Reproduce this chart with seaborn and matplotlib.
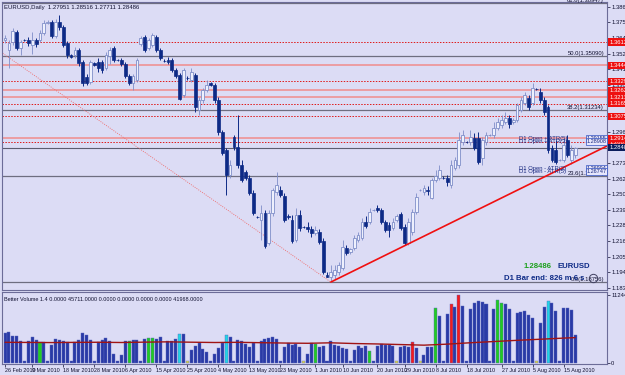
import matplotlib
matplotlib.use("Agg")
import matplotlib.pyplot as plt
import numpy as np
import pandas as pd
import seaborn as sns

# EURUSD daily bars, 26 Feb 2010 - 18 Aug 2010
opens = [1.3627, 1.3555, 1.3613, 1.3685, 1.3570, 1.3627, 1.3627, 1.3591, 1.3627, 1.3627,
         1.3678, 1.3752, 1.3758, 1.3656, 1.3758, 1.3721, 1.3606, 1.3519, 1.3519, 1.3555,
         1.3468, 1.3360, 1.3323, 1.3461, 1.3468, 1.3468, 1.3425, 1.3512, 1.3570, 1.3483,
         1.3483, 1.3454, 1.3367, 1.3316, 1.3338, 1.3598, 1.3649, 1.3570, 1.3591, 1.3649,
         1.3555, 1.3477, 1.3483, 1.3483, 1.3410, 1.3374, 1.3229, 1.3355, 1.3338, 1.3374,
         1.3121, 1.3193, 1.3265, 1.3316, 1.3302, 1.3193, 1.2961, 1.2831, 1.2650, 1.2925,
         1.2853, 1.2722, 1.2672, 1.2628, 1.2520, 1.2349, 1.2324, 1.2375, 1.2158, 1.2375,
         1.2527, 1.2541, 1.2498, 1.2350, 1.2324, 1.2179, 1.2360, 1.2274, 1.2274, 1.2259,
         1.2230, 1.2237, 1.2172, 1.1926, 1.1912, 1.1926, 1.1948, 1.1977, 1.2122, 1.2093,
         1.2122, 1.2179, 1.2194, 1.2310, 1.2310, 1.2395, 1.2411, 1.2397, 1.2310, 1.2288,
         1.2266, 1.2324, 1.2368, 1.2274, 1.2158, 1.2237, 1.2382, 1.2538, 1.2527, 1.2541,
         1.2484, 1.2614, 1.2628, 1.2630, 1.2628, 1.2578, 1.2701, 1.2722, 1.2889, 1.2892,
         1.2889, 1.2918, 1.2918, 1.2773, 1.2889, 1.2938, 1.2940, 1.2990, 1.3012, 1.3034,
         1.3063, 1.3034, 1.3048, 1.3121, 1.3171, 1.3208, 1.3171, 1.3275, 1.3251, 1.3193,
         1.3142, 1.2846, 1.2831, 1.2755, 1.2759, 1.2903, 1.2759, 1.27951]
highs = [1.3664, 1.3627, 1.3714, 1.3700, 1.3627, 1.3635, 1.3649, 1.3685, 1.3642, 1.3700,
         1.3772, 1.3772, 1.3772, 1.3779, 1.3808, 1.3736, 1.3620, 1.3526, 1.3577, 1.3570,
         1.3483, 1.3381, 1.3483, 1.3468, 1.3497, 1.3483, 1.3541, 1.3577, 1.3584, 1.3490,
         1.3497, 1.3468, 1.3381, 1.3381, 1.3497, 1.3656, 1.3664, 1.3642, 1.3678, 1.3664,
         1.3570, 1.3490, 1.3504, 1.3497, 1.3425, 1.3389, 1.3425, 1.3367, 1.3425, 1.3389,
         1.3215, 1.3280, 1.3338, 1.3323, 1.3316, 1.3215, 1.2976, 1.2846, 1.2759, 1.2940,
         1.3084, 1.2759, 1.2686, 1.2650, 1.2541, 1.2353, 1.2433, 1.2397, 1.2397, 1.2556,
         1.2672, 1.2570, 1.2520, 1.2368, 1.2360, 1.2411, 1.2397, 1.2281, 1.2310, 1.2281,
         1.2281, 1.2259, 1.2194, 1.1948, 1.1998, 1.1998, 1.2020, 1.2179, 1.2143, 1.2122,
         1.2216, 1.2237, 1.2339, 1.2353, 1.2411, 1.2404, 1.2433, 1.2411, 1.2324, 1.2310,
         1.2339, 1.2368, 1.2382, 1.2295, 1.2339, 1.2404, 1.2520, 1.2548, 1.2578, 1.2570,
         1.2628, 1.2686, 1.2722, 1.2643, 1.2650, 1.2759, 1.2780, 1.2961, 1.2976, 1.2896,
         1.2976, 1.2954, 1.2961, 1.2925, 1.2961, 1.2947, 1.3034, 1.3063, 1.3084, 1.3106,
         1.3084, 1.3063, 1.3171, 1.3215, 1.3251, 1.3229, 1.3316, 1.3280, 1.3280, 1.3215,
         1.3157, 1.2867, 1.2903, 1.2766, 1.2918, 1.2940, 1.2867, 1.28516]
lows = [1.3606, 1.3425, 1.3591, 1.3555, 1.3519, 1.3620, 1.3584, 1.3526, 1.3577, 1.3613,
        1.3664, 1.3743, 1.3642, 1.3642, 1.3700, 1.3577, 1.3497, 1.3497, 1.3497, 1.3439,
        1.3294, 1.3302, 1.3309, 1.3439, 1.3396, 1.3389, 1.3410, 1.3454, 1.3468, 1.3475,
        1.3439, 1.3352, 1.3302, 1.3265, 1.3323, 1.3584, 1.3541, 1.3555, 1.3577, 1.3541,
        1.3483, 1.3468, 1.3454, 1.3396, 1.3352, 1.3193, 1.3215, 1.3338, 1.3323, 1.3106,
        1.3084, 1.3171, 1.3251, 1.3294, 1.3171, 1.2940, 1.2795, 1.2505, 1.2628, 1.2831,
        1.2701, 1.2599, 1.2614, 1.2505, 1.2360, 1.2339, 1.2179, 1.2122, 1.2143, 1.2353,
        1.2505, 1.2491, 1.2310, 1.2331, 1.2158, 1.2165, 1.2245, 1.2266, 1.2237, 1.2201,
        1.2216, 1.2150, 1.1933, 1.1912, 1.1875, 1.1897, 1.1926, 1.1962, 1.2071, 1.2078,
        1.2107, 1.2165, 1.2179, 1.2266, 1.2295, 1.2390, 1.2382, 1.2295, 1.2237, 1.2201,
        1.2252, 1.2310, 1.2252, 1.2143, 1.2143, 1.2216, 1.2368, 1.2534, 1.2505, 1.2505,
        1.2476, 1.2599, 1.2614, 1.2621, 1.2570, 1.2556, 1.2686, 1.2701, 1.2867, 1.2882,
        1.2867, 1.2831, 1.2730, 1.2722, 1.2867, 1.2932, 1.2918, 1.2976, 1.2990, 1.3019,
        1.2990, 1.3019, 1.3034, 1.3106, 1.3157, 1.3121, 1.3157, 1.3265, 1.3171, 1.3084,
        1.2809, 1.2744, 1.2730, 1.2751, 1.2744, 1.2780, 1.2730, 1.27711]
closes = [1.3642, 1.3606, 1.3693, 1.3570, 1.3613, 1.3625, 1.3606, 1.3627, 1.3598, 1.3678,
          1.3750, 1.3758, 1.3656, 1.3758, 1.3721, 1.3591, 1.3519, 1.3504, 1.3555, 1.3461,
          1.3316, 1.3316, 1.3468, 1.3446, 1.3425, 1.3410, 1.3519, 1.3555, 1.3483, 1.3480,
          1.3454, 1.3367, 1.3316, 1.3367, 1.3483, 1.3642, 1.3555, 1.3627, 1.3664, 1.3555,
          1.3497, 1.3475, 1.3468, 1.3410, 1.3367, 1.3200, 1.3410, 1.3352, 1.3396, 1.3142,
          1.3193, 1.3265, 1.3302, 1.3302, 1.3193, 1.2961, 1.2809, 1.2650, 1.2722, 1.2853,
          1.2722, 1.2614, 1.2628, 1.2520, 1.2375, 1.2346, 1.2375, 1.2136, 1.2375, 1.2541,
          1.2578, 1.2505, 1.2324, 1.2346, 1.2172, 1.2360, 1.2266, 1.2270, 1.2259, 1.2230,
          1.2252, 1.2165, 1.1948, 1.1915, 1.1948, 1.1962, 1.1998, 1.2129, 1.2085, 1.2115,
          1.2194, 1.2216, 1.2310, 1.2281, 1.2382, 1.2397, 1.2397, 1.2310, 1.2252, 1.2252,
          1.2310, 1.2353, 1.2266, 1.2158, 1.2310, 1.2382, 1.2491, 1.2541, 1.2556, 1.2534,
          1.2614, 1.2643, 1.2686, 1.2628, 1.2599, 1.2722, 1.2759, 1.2903, 1.2940, 1.2889,
          1.2925, 1.2846, 1.2744, 1.2903, 1.2940, 1.2942, 1.2990, 1.3034, 1.3048, 1.3063,
          1.3019, 1.3048, 1.3157, 1.3193, 1.3229, 1.3142, 1.3280, 1.3273, 1.3193, 1.3106,
          1.2831, 1.2759, 1.2744, 1.2759, 1.2867, 1.2795, 1.2831, 1.28486]
volume = [49600, 51300, 44700, 44700, 36400, 2500, 36400, 43000, 38000, 34700,
          34700, 2500, 29800, 39700, 38000, 36400, 34700, 2500, 34700, 38000,
          49600, 46300, 38000, 2500, 34700, 38000, 41400, 36400, 14900, 2500,
          13200, 36400, 36400, 38000, 38000, 4000, 39700, 41400, 41400, 39700,
          43000, 2500, 36400, 36400, 39700, 48000, 48000, 2500, 21500, 28100,
          33100, 23200, 18200, 2500, 14900, 24800, 33100, 46300, 43000, 3300,
          38000, 36400, 31400, 26500, 33100, 2500, 36400, 39700, 41400, 43000,
          39700, 2500, 26500, 33100, 29800, 31400, 26500, 2500, 14900, 33100,
          31400, 26500, 28100, 2500, 36400, 29800, 28100, 24800, 23200, 2500,
          21500, 28100, 24800, 28100, 19800, 2500, 28100, 31400, 29800, 29800,
          28100, 2500, 26500, 28100, 26500, 34700, 24800, 2500, 13200, 26500,
          26500, 91000, 77700, 4000, 81000, 97600, 92600, 112443, 94300, 3300,
          89300, 99200, 102500, 100900, 97600, 4000, 89300, 104200, 99200, 97600,
          89300, 3300, 82700, 84400, 86000, 79400, 74400, 2500, 66200, 92600,
          102500, 99200, 86000, 3300, 91000, 91000, 87700, 45711]
green_bars = [9, 32, 37, 38, 80, 94, 111, 127, 128]
red_bars = [105, 115, 117]
cyan_bars = [45, 57, 140]
yellow_bars = [47, 77, 101, 107, 137]

# volume moving average (Better Volume signal line)
ma_bars = [0, 6, 12, 18, 24, 30, 36, 42, 48, 54, 60, 66, 72, 78, 84, 90, 96,
           102, 108, 114, 120, 126, 132, 138, 144, 147]
ma_vals = [34200, 34000, 33800, 34100, 34300, 33900, 34500, 35000, 34400, 33900,
           34200, 33600, 33000, 32600, 33400, 32200, 31500, 30500, 29500, 31200,
           33500, 35500, 37500, 39300, 41200, 41968]

# horizontal levels
fib_pct = ["0.0", "23.6", "38.2", "50.0", "61.8"]
fib_levels = [1.18756, 1.26462, 1.31234, 1.35090, 1.38947]
red_dotted = [1.36125, 1.33291, 1.31652, 1.30753, 1.28879]
pink_solid = [1.34445, 1.32626, 1.32138, 1.29142]
bid = 1.28486
atr_names = ["D1 Open + ATR(5)", "D1 Open + ATR(3)", "D1 Open - ATR(3)", "D1 Open - ATR(5)"]
atr_levels = [1.29155, 1.28908, 1.26994, 1.26747]

price_ticks = [1.38660, 1.37545, 1.36425, 1.35270, 1.34150, 1.33030, 1.31910, 1.30790,
               1.29620, 1.28500, 1.27360, 1.26240, 1.25089, 1.23960, 1.22845, 1.21690,
               1.20570, 1.19450, 1.18320]
date_ticks = [0, 7, 15, 23, 31, 39, 47, 55, 63, 71, 80, 87, 96, 103, 111, 119, 128, 136, 144]
date_labels = ["26 Feb 2010", "9 Mar 2010", "18 Mar 2010", "28 Mar 2010", "6 Apr 2010",
               "15 Apr 2010", "25 Apr 2010", "4 May 2010", "13 May 2010", "23 May 2010",
               "1 Jun 2010", "10 Jun 2010", "20 Jun 2010", "29 Jun 2010", "8 Jul 2010",
               "18 Jul 2010", "27 Jul 2010", "5 Aug 2010", "15 Aug 2010"]

trend_start = (84, 1.1875)
trend_end = (156, 1.2871)
fib_anchor = (-83, 1.5143)

sns.set_theme(style="white")
plt.rcParams['font.family'] = ['Liberation Sans', 'DejaVu Sans']

BG = '#dcdcf5'
BEAR = '#0d2a86'
BULL_EDGE = '#7f8ec8'
BULL_FILL = '#eef0fd'
FRAME = '#6c6c98'
TXT = '#101030'

n = len(closes)
bars = np.arange(n)
o = np.array(opens)
h = np.array(highs)
l = np.array(lows)
c = np.array(closes)
up = c >= o

fig = plt.figure(figsize=(6.25, 3.75), dpi=100, facecolor=BG)
ax = fig.add_axes([2 / 625, 85 / 375, 605 / 625, 288 / 375], facecolor=BG)
axv = fig.add_axes([2 / 625, 11 / 375, 605 / 625, 72 / 375], facecolor=BG)

# levels
for lvl in fib_levels:
    ax.axhline(lvl, color='#6e6e80', lw=0.9, zorder=1)
for lvl in pink_solid:
    ax.axhline(lvl, color='#f08c8c', lw=1.1, zorder=1)
for lvl in red_dotted:
    ax.axhline(lvl, color='#e01818', lw=0.7, ls=(0, (1.5, 1.5)), zorder=1)
ax.axhline(bid, color='#5c5c70', lw=0.8, zorder=1)

# fibo diagonal + trend line
ax.plot([fib_anchor[0], trend_start[0]], [fib_anchor[1], trend_start[1]],
        color='#f06a6a', lw=0.6, ls=(0, (1.2, 1.5)), zorder=1)
ax.plot([trend_start[0], trend_end[0]], [trend_start[1], trend_end[1]],
        color='#f01010', lw=1.2, zorder=4)

# candles
ax.vlines(bars[up], l[up], h[up], color=BULL_EDGE, lw=0.6, zorder=2)
ax.vlines(bars[~up], l[~up], h[~up], color=BEAR, lw=0.7, zorder=2)
ax.bar(bars[up], c[up] - o[up], bottom=o[up], width=0.72, facecolor=BULL_FILL,
       edgecolor=BULL_EDGE, lw=0.6, zorder=3)
ax.bar(bars[~up], c[~up] - o[~up], bottom=o[~up], width=0.72, facecolor=BEAR,
       edgecolor=BEAR, lw=0.5, zorder=3)

ax.set_xlim(-0.8, 155.2)
ax.set_ylim(1.18175, 1.39022)
ax.set_xticks([])
ax.yaxis.tick_right()
ax.set_yticks(price_ticks)
ax.set_yticklabels([f"{t:.5f}" for t in price_ticks])
ax.tick_params(axis='y', labelsize=4.2, length=2, width=0.5, pad=1,
               colors=TXT, right=True)
for s in ax.spines.values():
    s.set_color(FRAME)
    s.set_linewidth(0.8)

ytr = ax.get_yaxis_transform()
for pct, lvl in zip(fib_pct, fib_levels):
    ax.text(0.995, lvl, f"{pct}({lvl:.5f})", transform=ytr, ha='right', va='bottom',
            fontsize=4.2, color=TXT, zorder=6)

for name, lvl in zip(atr_names, atr_levels):
    ax.text(0.855, lvl, name, transform=ytr, ha='left', va='center', fontsize=4.2,
            color='#1a2a80', zorder=6)
    ax.text(0.966, lvl, f"{lvl:.5f}", transform=ytr, ha='left', va='center', fontsize=4.0,
            color='#1a2a80', zorder=7,
            bbox=dict(boxstyle='square,pad=0.15', fc='#e6e6fc', ec='#3050c0', lw=0.5))

for lvl in red_dotted + pink_solid:
    ax.text(1.004, lvl, f"{lvl:.5f}", transform=ytr, ha='left', va='center', fontsize=4.2,
            color='white', clip_on=False, zorder=8,
            bbox=dict(boxstyle='square,pad=0.2', fc='#ee1010', ec='none'))
ax.text(1.004, bid, f"{bid:.5f}", transform=ytr, ha='left', va='center', fontsize=4.2,
        color='white', clip_on=False, zorder=8,
        bbox=dict(boxstyle='square,pad=0.2', fc='#0a1c5c', ec='none'))

# small clock icon next to the bar timer
ax.plot([0.977], [0.042], marker='o', ms=6, mfc='none', mec='#404060', mew=0.7,
        transform=ax.transAxes, clip_on=False, zorder=6)

fig.text(4 / 625, 1 - 7 / 375, f"EURUSD,Daily  {opens[-1]:.5f} {highs[-1]:.5f} {lows[-1]:.5f} {closes[-1]:.5f}",
         fontsize=4.3, color=TXT, va='center')
fig.text(552 / 625, 1 - 266 / 375, f"{closes[-1]:.5f}", fontsize=5.6, fontweight='bold',
         color='#1ea01e', ha='right', va='center')
fig.text(557 / 625, 1 - 266 / 375, "EURUSD", fontsize=5.6, fontweight='bold',
         color='#0d2a86', ha='left', va='center')
fig.text(584 / 625, 1 - 278 / 375, "D1 Bar end: 826 m 6 s", fontsize=5.6, fontweight='bold',
         color='#0d2a86', ha='right', va='center')

# volume panel
palette = {'blue': '#2a3aa6', 'green': '#22cc22', 'red': '#f41c1c',
           'cyan': '#22d4e4', 'yellow': '#e6e040'}
kind = ['blue'] * n
for group, name in [(green_bars, 'green'), (red_bars, 'red'), (cyan_bars, 'cyan'),
                    (yellow_bars, 'yellow')]:
    for i in group:
        kind[i] = name
vol_df = pd.DataFrame({'bar': bars, 'volume': volume, 'kind': kind})
axv.bar(vol_df['bar'], vol_df['volume'], width=0.78,
        color=[palette[k] for k in vol_df['kind']],
        edgecolor='#5a68c0', linewidth=0.3, zorder=2)
sns.lineplot(x=ma_bars, y=ma_vals, color='#a01414', lw=1.0, ax=axv, zorder=3)

axv.set_xlim(-0.8, 155.2)
axv.set_ylim(-1654, 117434)
axv.set_xlabel('')
axv.set_ylabel('')
axv.yaxis.tick_right()
axv.set_yticks([0, 112443])
axv.set_yticklabels(["0", "112443.0"])
axv.tick_params(axis='y', labelsize=4.2, length=2, width=0.5, pad=1, colors=TXT, right=True)
axv.set_xticks(date_ticks)
axv.set_xticklabels(date_labels)
axv.tick_params(axis='x', labelsize=3.9, length=2, width=0.5, pad=1, colors=TXT, bottom=True)
for t in axv.get_xticklabels():
    t.set_ha('left')
for s in axv.spines.values():
    s.set_color(FRAME)
    s.set_linewidth(0.8)
axv.text(0.004, 0.93, "Better Volume 1.4 0.0000 45711.0000 0.0000 0.0000 0.0000 0.0000 41968.0000",
         transform=axv.transAxes, fontsize=4.0, color=TXT, va='top')

fig.savefig("out.png", dpi=100, facecolor=BG)
